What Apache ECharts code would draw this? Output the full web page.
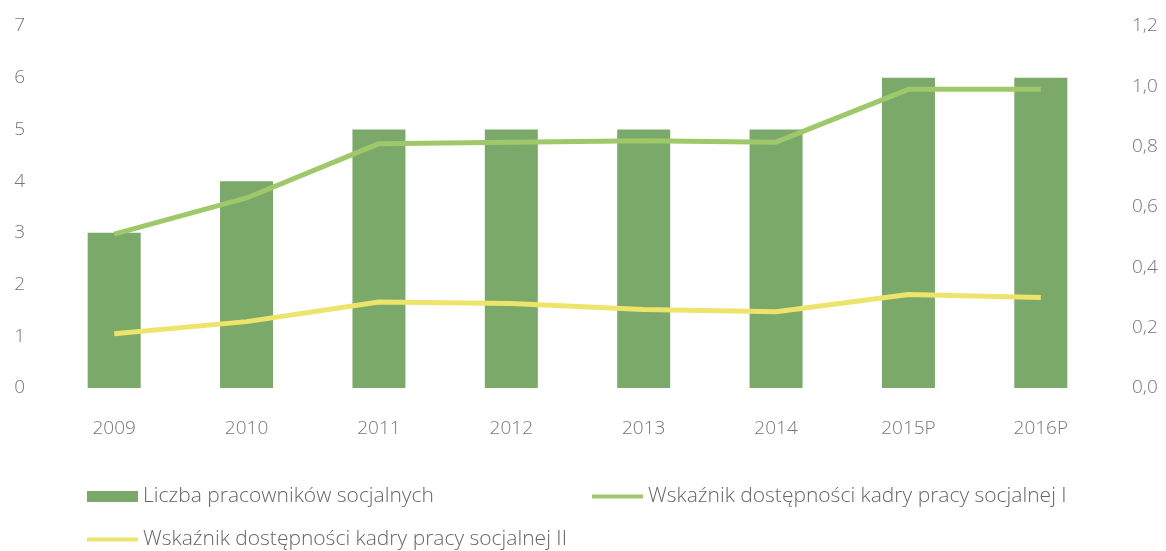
<!DOCTYPE html>
<html>
<head>
<meta charset="utf-8">
<script src="https://cdn.jsdelivr.net/npm/echarts@6/dist/echarts.min.js"></script>
<style>
  html, body { margin: 0; padding: 0; background: #fff; }
  #chart { width: 1166px; height: 551px; }
</style>
</head>
<body>
<div id="chart"></div>
<script>
// dane
var years = ['2009', '2010', '2011', '2012', '2013', '2014', '2015P', '2016P'];
var pracownicy = [3, 4, 5, 5, 5, 5, 6, 6];
var wskaznikI = [0.51, 0.63, 0.81, 0.815, 0.82, 0.815, 0.99, 0.99];
var wskaznikII = [0.18, 0.22, 0.285, 0.28, 0.26, 0.253, 0.31, 0.30];
var leftTicks = [0, 7, 1];
var rightTicks = [0, 1.2, 0.2];

var names = [
	'Liczba pracowników socjalnych',
	'Wskaźnik dostępności kadry pracy socjalnej I',
	'Wskaźnik dostępności kadry pracy socjalnej II'
];

var FONT = '"Open Sans", sans-serif';
var labelStyle = { color: '#777', fontSize: 19, fontFamily: FONT, fontWeight: 300 };
var legendText = { color: '#666', fontSize: 21, fontFamily: FONT, fontWeight: 300 };

var chart = echarts.init(document.getElementById('chart'));

var option = {
	animation: false,
	grid: { left: 48, right: 59, top: 26, bottom: 163 },
	legend: [
		{
			data: [names[0]], left: 82, top: 481, icon: 'rect',
			itemWidth: 51, itemHeight: 11, textStyle: legendText
		},
		{
			data: [names[1]], left: 587, top: 481, icon: 'rect',
			itemWidth: 51, itemHeight: 4, textStyle: legendText
		},
		{
			data: [names[2]], left: 82, top: 524, icon: 'rect',
			itemWidth: 51, itemHeight: 4, textStyle: legendText
		}
	],
	xAxis: {
		type: 'category',
		data: years,
		axisLine: { show: false },
		axisTick: { show: false },
		axisLabel: Object.assign({ margin: 31 }, labelStyle)
	},
	yAxis: [
		{
			type: 'value',
			min: leftTicks[0], max: leftTicks[1], interval: leftTicks[2],
			splitLine: { show: false },
			axisLine: { show: false },
			axisTick: { show: false },
			axisLabel: Object.assign({ margin: 23 }, labelStyle)
		},
		{
			type: 'value',
			position: 'right',
			min: rightTicks[0], max: rightTicks[1], interval: rightTicks[2],
			splitLine: { show: false },
			axisLine: { show: false },
			axisTick: { show: false },
			axisLabel: Object.assign({
				margin: 25,
				formatter: function (v) { return v.toFixed(1).replace('.', ','); }
			}, labelStyle)
		}
	],
	series: [
		{
			name: names[0],
			type: 'bar',
			data: pracownicy,
			barWidth: 53,
			itemStyle: { color: '#7ba96a' }
		},
		{
			name: names[1],
			type: 'line',
			yAxisIndex: 1,
			data: wskaznikI,
			symbol: 'none',
			lineStyle: { color: '#9fc86a', width: 5 },
			itemStyle: { color: '#9fc86a' }
		},
		{
			name: names[2],
			type: 'line',
			yAxisIndex: 1,
			data: wskaznikII,
			symbol: 'none',
			lineStyle: { color: '#eee46c', width: 5 },
			itemStyle: { color: '#eee46c' }
		}
	]
};

chart.setOption(option);
</script>
</body>
</html>
